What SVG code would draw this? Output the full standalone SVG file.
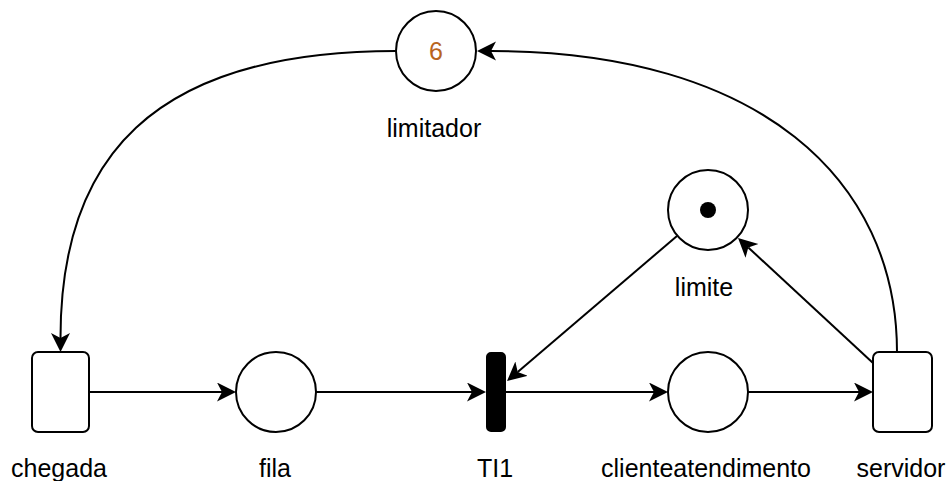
<svg xmlns="http://www.w3.org/2000/svg" width="949" height="481" viewBox="0 0 949 481">
<defs>
<style>
.place{fill:#fff;stroke:#000;stroke-width:2}
.trans{fill:#fff;stroke:#000;stroke-width:2}
.bar{fill:#000;stroke:#000;stroke-width:2}
.edge{fill:none;stroke:#000;stroke-width:2;marker-end:url(#arr)}
.lbl{font-family:"Liberation Sans",Arial,sans-serif;font-size:25px;fill:#000;text-anchor:middle}
.tok{font-family:"Liberation Sans",Arial,sans-serif;font-size:25px;fill:#B8651E;text-anchor:middle}
</style>
<marker id="arr" markerUnits="userSpaceOnUse" markerWidth="20" markerHeight="20" refX="5" refY="9.5" orient="auto" viewBox="0 0 20 20">
<path d="M0,0 L19,9.5 L0,19 L5,9.5 z" fill="#000"/>
</marker>
</defs>
<g id="connectors">
<path class="edge" d="M89,392 L222,392"/>
<path class="edge" d="M316,392 L472,392"/>
<path class="edge" d="M506,392 L654,392"/>
<path class="edge" d="M748,392 L859,392"/>
<path class="edge" d="M873,363 L748.3,247.5"/>
<path class="edge" d="M677,236 L517.7,371.9"/>
<path class="edge" d="M897,352 C897,180 760,51 491,51"/>
<path class="edge" d="M396,51 C150,51 60.5,160 60.5,338"/>
</g>
<g id="limitador">
<circle class="place" cx="436" cy="51" r="40"/>
<text class="tok" x="436" y="60">6</text>
<text class="lbl" x="434" y="137">limitador</text>
</g>
<g id="limite">
<circle class="place" cx="708" cy="210" r="40"/>
<circle cx="708" cy="210" r="8" fill="#000"/>
<text class="lbl" x="704" y="296">limite</text>
</g>
<g id="chegada">
<rect class="trans" x="32" y="352" width="57" height="80" rx="6"/>
<text class="lbl" x="59" y="477">chegada</text>
</g>
<g id="fila">
<circle class="place" cx="276" cy="392" r="40"/>
<text class="lbl" x="275" y="477">fila</text>
</g>
<g id="TI1">
<rect class="bar" x="487" y="353" width="18" height="78" rx="4"/>
<text class="lbl" x="495" y="477">TI1</text>
</g>
<g id="clienteatendimento">
<circle class="place" cx="708" cy="392" r="40"/>
<text class="lbl" x="706" y="477">clienteatendimento</text>
</g>
<g id="servidor">
<rect class="trans" x="873" y="352" width="59" height="80" rx="6"/>
<text class="lbl" x="901" y="477">servidor</text>
</g>
</svg>
